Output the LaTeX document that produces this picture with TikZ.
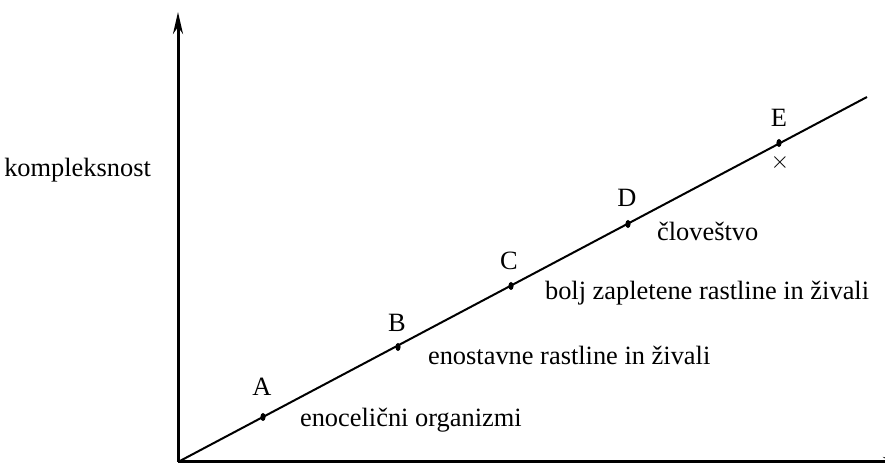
\documentclass[tikz,border=0pt]{standalone}
\usepackage{fontspec}
\setmainfont{Liberation Serif}
\usetikzlibrary{arrows.meta,shapes.geometric}
\begin{document}
\begin{tikzpicture}[x=0.5pt, y=0.5pt,
        axis/.style={line width=1.5pt, -{Stealth[length=11pt, width=5pt]}},
        dot/.style={ellipse, fill, inner sep=0pt, minimum width=2.6pt, minimum height=4pt},
        lbl/.style={font=\fontsize{13.2}{15}\selectfont}]
        \useasboundingbox (0,0) rectangle (885,465);
        \clip (0,0) rectangle (885,465);

        % Axes
        \coordinate (o) at (178,3);
        \coordinate (ytop) at (178,453);
        \coordinate (xend) at (905,3);
        \coordinate (lend) at (867,368);
        \draw[axis] (o) -- (ytop);
        \draw[axis] (o) -- (xend);
        \node[lbl, anchor=east] (ylab) at (158,295) {kompleksnost};

        % Line of growing complexity
        \draw[line width=1pt] (o) -- (lend);

        % Points on the line
        \node[dot] (a) at (263,48) {};
        \node[dot] (b) at (398,118) {};
        \node[dot] (c) at (511,179) {};
        \node[dot] (d) at (628,241) {};
        \node[dot] (e) at (779,322) {};

        \node[lbl] (alab) at (262,78) {A};
        \node[lbl] (blab) at (397,142) {B};
        \node[lbl] (clab) at (509,204) {C};
        \node[lbl] (dlab) at (627,267) {D};
        \node[lbl] (elab) at (779,347) {E};
        \node[lbl] (x) at (780,302) {$\times$};

        % Descriptions
        \node[lbl, anchor=west] (adesc) at (293,45) {enocelični organizmi};
        \node[lbl, anchor=west] (bdesc) at (421,110) {enostavne rastline in živali};
        \node[lbl, anchor=west] (cdesc) at (538,172) {bolj zapletene rastline in živali};
        \node[lbl, anchor=west] (ddesc) at (650,234) {človeštvo};
    \end{tikzpicture}
\end{document}
